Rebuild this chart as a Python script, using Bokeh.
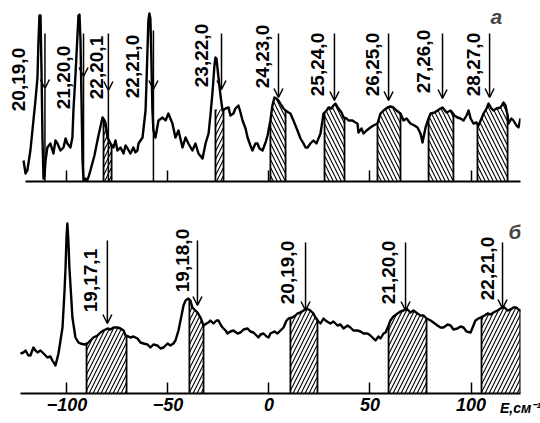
import numpy as np
from bokeh.plotting import figure
from bokeh.layouts import column
from bokeh.models import ColumnDataSource, Label, Arrow, OpenHead, FixedTicker, Range1d
from bokeh.embed import file_html
from bokeh.resources import INLINE

FONT = "Liberation Sans"

# ---------------- panel (а): spectrum ----------------
top_E = [
    -121.5, -120.5, -119.6, -118.1, -116.6, -115.6, -114.6, -114.1, -113.6, -113.1,
    -112.6, -112.1, -111.6, -111.1, -110.6, -109.7, -108.2, -106.7, -105.7, -104.7,
    -103.2, -101.7, -100.7, -99.8, -98.3, -97.3, -96.8, -95.8, -94.8, -94.3,
    -93.8, -93.3, -92.8, -92.3, -91.8, -90.8, -90.3, -89.4, -88.4, -86.4,
    -84.4, -82.4, -81.4, -80.9, -79.9, -78.5, -77.0, -76.0, -75.0, -73.5,
    -72.0, -71.0, -70.0, -68.6, -67.1, -66.1, -65.1, -64.6, -62.6, -61.1,
    -60.6, -59.7, -59.2, -58.7, -58.2, -57.7, -57.2, -56.2, -54.7, -52.7,
    -51.2, -49.8, -47.8, -46.3, -44.8, -42.8, -41.3, -39.9, -37.9, -36.4,
    -34.9, -32.9, -31.4, -29.9, -29.0, -28.0, -27.0, -26.5, -26.0, -25.0,
    -24.0, -23.0, -21.5, -20.0, -19.1, -17.6, -16.6, -15.1, -14.1, -13.1,
    -11.6, -10.6, -9.2, -8.2, -6.7, -5.7, -4.7, -3.2, -1.7, -0.7,
    0.7, 1.7, 2.7, 3.7, 4.7, 6.2, 7.2, 8.2, 9.7, 10.6,
    12.1, 14.1, 15.6, 17.1, 18.1, 19.1, 20.5, 22.0, 23.5, 25.5,
    27.0, 28.5, 29.5, 30.9, 31.9, 32.9, 34.4, 35.9, 36.9, 38.4,
    39.4, 41.3, 42.8, 43.8, 44.3, 45.8, 46.8, 48.3, 50.2, 51.7,
    53.7, 55.2, 56.7, 58.7, 60.1, 61.6, 63.1, 65.1, 66.6, 68.1,
    70.0, 72.0, 73.5, 75.0, 76.0, 77.5, 79.0, 80.0, 82.0, 83.4,
    84.9, 85.9, 87.9, 89.9, 91.8, 93.3, 94.8, 96.3, 97.8, 98.8,
    99.8, 101.2, 102.7, 103.7, 105.2, 106.2, 107.7, 108.7, 110.1, 111.1,
    112.6, 114.6, 116.1, 117.1, 118.1, 118.6, 120.0, 121.0, 122.5, 123.5, 124.5,
]
top_I = [
    21, 8, 11, 31, 61, 81, 104, 141, 166, 166,
    111, 41, 3, 6, 21, 34, 38, 28, 41, 38,
    31, 34, 43, 38, 34, 44, 71, 106, 146, 166,
    167, 141, 81, 21, 1, 3, 0, 4, 11, 26,
    46, 64, 61, 58, 44, 38, 34, 41, 31, 34,
    28, 36, 33, 28, 34, 29, 31, 38, 44, 71,
    101, 161, 168, 163, 121, 71, 51, 44, 61, 64,
    61, 68, 58, 44, 51, 34, 44, 38, 31, 38,
    28, 23, 38, 48, 66, 88, 116, 124, 123, 104,
    86, 71, 73, 74, 66, 68, 73, 76, 69, 61,
    53, 44, 36, 31, 38, 38, 33, 31, 39, 46,
    61, 76, 84, 83, 81, 76, 73, 71, 69, 68,
    61, 51, 43, 38, 34, 34, 38, 41, 38, 48,
    68, 71, 74, 73, 76, 78, 73, 69, 64, 63,
    61, 61, 59, 58, 49, 53, 48, 51, 54, 56,
    58, 68, 71, 74, 75, 74, 71, 68, 61, 63,
    58, 56, 54, 48, 39, 54, 63, 68, 69, 71,
    73, 74, 69, 71, 66, 64, 63, 61, 66, 71,
    63, 58, 59, 56, 63, 68, 73, 78, 73, 71,
    73, 74, 79, 76, 66, 58, 63, 61, 56, 54, 63,
]
top_labels = ["20,19,0", "21,20,0", "22,20,1", "22,21,0", "23,22,0",
              "24,23,0", "25,24,0", "26,25,0", "27,26,0", "28,27,0"]
top_label_E = [-124.0, -101.7, -85.4, -67.6, -33.4, -3.2, 24.0, 51.2, 76.5, 101.2]
top_label_I = [102, 104, 114, 115, 126, 125, 117, 117, 120, 117]
top_arrow_E = [-110.9, -91.8, -79.5, -57.2, -23.5, 4.7, 32.4, 59.2, 85.9, 109.2]
top_arrow_top = [148, 148, 148, 151, 148, 148, 148, 148, 148, 148]
top_arrow_tip = [93, 105, 91, 92, 92, 84, 81, 81, 83, 84]
top_shaft_to_base = [1, 1, 1, 1, 0, 0, 0, 0, 0, 0]
top_hatch_lo = [-81.9, -26.5, 0.7, 27.5, 53.7, 79.0, 103.2]
top_hatch_hi = [-77.9, -22.5, 8.2, 37.4, 65.1, 91.3, 118.1]
top_hatch_cap = [None, 72, None, None, None, None, None]
top_hatch_pat = ["/", "/", "\\", "\\", "\\", "\\", "\\"]
top_axis_span = (-120.5, 125.5)

# ---------------- panel (б): spectrum ----------------
bot_E = [
    -123.0, -121.5, -120.5, -119.1, -118.1, -116.6, -115.6, -114.6, -113.1, -111.6,
    -110.6, -109.7, -108.2, -107.2, -105.7, -104.2, -103.2, -102.2, -101.2, -100.7,
    -100.2, -99.8, -99.3, -98.8, -97.8, -97.3, -95.8, -94.3, -93.3, -91.3,
    -89.9, -88.4, -86.9, -84.9, -83.4, -81.9, -79.9, -78.5, -77.0, -75.0,
    -73.5, -72.0, -71.0, -69.6, -68.6, -67.1, -65.1, -63.6, -62.1, -60.1,
    -58.7, -57.2, -55.2, -53.7, -52.2, -50.2, -48.8, -47.3, -46.3, -44.8,
    -43.8, -42.3, -41.3, -39.9, -38.9, -37.9, -36.4, -35.4, -33.9, -32.4,
    -30.9, -30.0, -29.0, -27.5, -26.0, -25.0, -24.0, -23.0, -21.5, -20.5,
    -19.1, -17.6, -15.6, -14.1, -12.6, -10.6, -9.2, -7.7, -6.2, -5.2,
    -4.2, -2.7, -1.2, -0.2, 0.7, 2.7, 4.2, 5.7, 7.2, 8.7,
    9.7, 11.6, 13.1, 14.1, 15.6, 17.1, 18.6, 20.5, 22.0, 23.0,
    24.5, 25.5, 27.0, 28.0, 29.5, 30.4, 31.9, 33.9, 35.4, 36.9,
    38.9, 40.3, 41.8, 43.8, 45.3, 46.8, 48.8, 50.2, 51.7, 52.7,
    54.2, 55.2, 56.7, 57.7, 59.2, 60.1, 61.6, 63.6, 65.1, 66.6,
    68.1, 70.0, 71.5, 73.5, 75.0, 76.5, 78.0, 80.0, 81.4, 83.4,
    84.9, 86.4, 88.4, 89.9, 91.3, 93.3, 94.8, 96.3, 97.8, 99.8,
    101.2, 102.2, 103.7, 104.7, 106.7, 108.2, 109.7, 111.1, 113.1, 114.6,
    116.1, 118.1, 119.6, 121.0, 122.5, 123.5, 124.5, 125.5,
]
bot_I = [
    40, 41, 43, 38, 38, 46, 43, 41, 43, 40,
    38, 36, 37, 33, 28, 40, 53, 66, 103, 126,
    158, 170, 153, 126, 93, 76, 56, 51, 50, 49,
    50, 53, 56, 58, 61, 63, 65, 64, 66, 66,
    65, 63, 58, 57, 56, 57, 55, 51, 50, 49,
    46, 49, 48, 45, 46, 50, 48, 50, 53, 63,
    73, 88, 93, 95, 93, 86, 83, 81, 76, 68,
    70, 71, 73, 70, 73, 73, 69, 66, 63, 60,
    62, 63, 60, 61, 64, 65, 62, 61, 58, 56,
    59, 60, 57, 56, 60, 62, 60, 63, 66, 73,
    75, 76, 78, 80, 81, 83, 85, 83, 80, 76,
    72, 70, 75, 73, 71, 70, 72, 68, 69, 65,
    68, 66, 63, 63, 62, 60, 60, 58, 55, 53,
    57, 55, 60, 61, 68, 73, 77, 80, 82, 83,
    85, 81, 83, 80, 78, 78, 75, 73, 71, 68,
    66, 66, 69, 68, 64, 65, 67, 66, 62, 61,
    68, 73, 75, 76, 78, 80, 79, 81, 83, 85,
    87, 83, 84, 86, 86, 84, 83, 85,
]
bot_labels = ["19,17,1", "19,18,0", "20,19,0", "21,20,0", "22,21,0"]
bot_label_E = [-88.4, -42.8, 9.1, 59.2, 108.0]
bot_label_I = [113, 133, 121, 121, 125]
bot_arrow_E = [-80.0, -35.4, 18.1, 67.6, 115.6]
bot_arrow_top = [153, 153, 151, 151, 151]
bot_arrow_tip = [70, 88, 83, 83, 85]
bot_shaft_to_base = [0, 0, 0, 0, 0]
bot_hatch_lo = [-90.3, -39.4, 10.6, 59.2, 105.2]
bot_hatch_hi = [-70.5, -32.4, 24.0, 78.0, 124.4]
bot_hatch_cap = [None, None, None, None, None]
bot_hatch_pat = ["/", "/", "/", "/", "/"]
bot_axis_span = (-123.0, 128.5)

tick_values = [-100, -50, 0, 50, 100]
tick_labels = ["\u2212100", "\u221250", "0", "50", "100"]
axis_title = "E,\u0441\u043c\u207b\u00b9"
E_view = (-132.9, 124.5)   # both frames end at x ~ 520 px (column aligns the frames)


def make_panel(p, E, I, labels, lab_E, lab_I, arr_E, arr_top, arr_tip, to_base,
               h_lo, h_hi, h_cap, h_pat, span):
    E = np.asarray(E, dtype=float)
    I = np.asarray(I, dtype=float)
    p.outline_line_color = None
    p.grid.visible = False
    p.background_fill_color = "white"
    p.border_fill_color = "white"
    ex, ey = [], []
    for a, b, c, pat in zip(h_lo, h_hi, h_cap, h_pat):
        inner = E[(E > a) & (E < b)]
        xs = np.concatenate([[a], inner, [b]])
        ys = np.interp(xs, E, I)
        if c is not None:
            ys = np.minimum(ys, c)
        p.varea(x=xs, y1=np.zeros_like(xs), y2=ys, fill_color="white",
                hatch_pattern=pat, hatch_color="black", hatch_scale=8, hatch_weight=1.1)
        ex += [a, b]
        ey += [ys[0], ys[-1]]
    p.segment(x0=ex, y0=[0] * len(ex), x1=ex, y1=ey, line_color="black", line_width=1.8)
    p.line(E, I, line_color="black", line_width=2.4, line_join="round")
    src = ColumnDataSource(dict(x=arr_E, y0=arr_top, y1=arr_tip))
    p.add_layout(Arrow(end=OpenHead(size=9, line_width=1.5, line_color="black"),
                       x_start="x", y_start="y0", x_end="x", y_end="y1",
                       line_width=1.5, line_color="black", source=src))
    bx = [x for x, f in zip(arr_E, to_base) if f]
    by = [t for t, f in zip(arr_tip, to_base) if f]
    if bx:
        p.segment(x0=bx, y0=by, x1=bx, y1=[0] * len(bx), line_color="black", line_width=1.5)
    for t, x, y in zip(labels, lab_E, lab_I):
        p.add_layout(Label(x=x, y=y, text=t, angle=np.pi / 2, text_font=FONT,
                           text_font_size="19px", text_font_style="bold",
                           text_align="center", text_baseline="middle", text_color="black"))
    ax = p.xaxis[0]
    ax.ticker = FixedTicker(ticks=tick_values)
    ax.bounds = span
    ax.axis_line_width = 2
    ax.axis_line_color = "black"
    ax.major_tick_in = 11
    ax.major_tick_out = 0
    ax.major_tick_line_width = 1.5
    ax.minor_tick_in = 0
    ax.minor_tick_out = 0


p1 = figure(width=540, height=189, x_range=Range1d(*E_view), y_range=Range1d(0, 181),
            output_backend="svg", toolbar_location=None, y_axis_location=None,
            min_border_left=0, min_border_right=20, min_border_top=0, min_border_bottom=8)
make_panel(p1, top_E, top_I, top_labels, top_label_E, top_label_I, top_arrow_E,
           top_arrow_top, top_arrow_tip, top_shaft_to_base,
           top_hatch_lo, top_hatch_hi, top_hatch_cap, top_hatch_pat, top_axis_span)
p1.xaxis[0].major_label_overrides = {v: "" for v in tick_values}
p1.xaxis[0].major_label_text_font_size = "1px"
p1.xaxis[0].major_label_standoff = 0
p1.add_layout(Label(x=112.6, y=165, text="\u0430", text_font=FONT, text_font_style="bold italic",
                    text_font_size="21px", text_align="center", text_baseline="middle"))

p2 = figure(width=540, height=233, x_range=Range1d(*E_view), y_range=Range1d(0, 190),
            output_backend="svg", toolbar_location=None, y_axis_location=None,
            min_border_left=0, min_border_right=20, min_border_top=14, min_border_bottom=29)
make_panel(p2, bot_E, bot_I, bot_labels, bot_label_E, bot_label_I, bot_arrow_E,
           bot_arrow_top, bot_arrow_tip, bot_shaft_to_base,
           bot_hatch_lo, bot_hatch_hi, bot_hatch_cap, bot_hatch_pat, bot_axis_span)
ax2 = p2.xaxis[0]
ax2.major_label_overrides = dict(zip(tick_values, tick_labels))
ax2.major_label_text_font = FONT
ax2.major_label_text_font_style = "bold italic"
ax2.major_label_text_font_size = "18px"
ax2.major_label_text_color = "black"
ax2.major_label_standoff = 4
ax2.axis_label = axis_title
ax2.axis_label_align = "end"
ax2.axis_label_standoff = -14
ax2.axis_label_text_font = FONT
ax2.axis_label_text_font_style = "bold italic"
ax2.axis_label_text_font_size = "14px"
ax2.axis_label_text_color = "black"
p2.add_layout(Label(x=121.8, y=162, text="\u0431", text_font=FONT, text_font_style="bold italic",
                    text_font_size="21px", text_align="center", text_baseline="middle"))

layout = column(p1, p2)
open("out.html", "w").write(file_html(layout, INLINE))
